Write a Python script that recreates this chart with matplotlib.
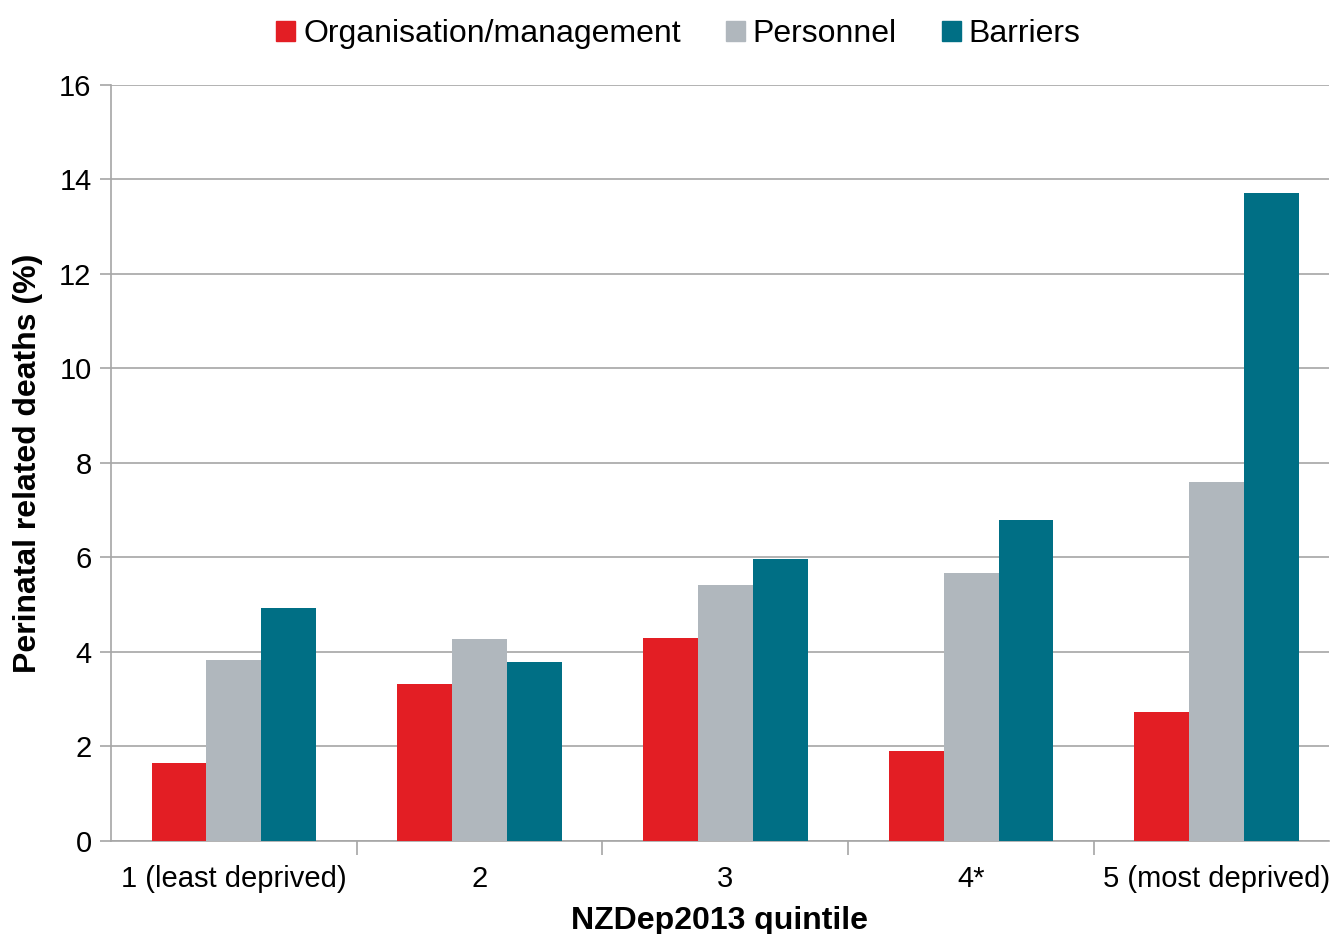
import numpy as np
import matplotlib.pyplot as plt
from matplotlib.patches import Patch

plt.rcParams['font.family'] = ['Liberation Sans', 'DejaVu Sans']

quintiles = ['1 (least deprived)', '2', '3', '4*', '5 (most deprived)']
series = ['Organisation/management', 'Personnel', 'Barriers']
organisation = [1.65, 3.32, 4.30, 1.90, 2.73]
personnel = [3.83, 4.28, 5.42, 5.67, 7.60]
barriers = [4.93, 3.79, 5.97, 6.79, 13.71]
colors = ['#e31e24', '#b0b7bd', '#006f85']


def main():
    fig = plt.figure(figsize=(13.3, 9.34), dpi=100)
    ax = fig.add_axes([0.0835, 0.0996, 0.9155, 0.8094])

    x = np.arange(len(quintiles))
    w = 0.2236
    for i, vals in enumerate([organisation, personnel, barriers]):
        ax.bar(x + (i - 1) * w, vals, w, color=colors[i], zorder=3)

    ax.set_ylim(0, 16)
    ax.set_yticks(range(0, 17, 2))
    ax.set_xlim(-0.5, -0.5 + 1219 / 246)
    ax.set_xticks(x)
    ax.set_xticklabels(quintiles)
    ax.set_xticks(np.arange(0.5, 4.5, 1), minor=True)

    ax.grid(axis='y', color='#a6a6a6', linewidth=1.2, zorder=0)
    for s in ['top', 'right']:
        ax.spines[s].set_visible(False)
    for s in ['left', 'bottom']:
        ax.spines[s].set_color('#a6a6a6')
        ax.spines[s].set_linewidth(1.2)

    ax.tick_params(axis='y', length=8, color='#a6a6a6', width=1.2, labelsize=21, pad=6)
    ax.tick_params(axis='x', which='major', length=0, labelsize=21, pad=17)
    ax.tick_params(axis='x', which='minor', length=10, color='#a6a6a6', width=1.2)

    ax.set_xlabel('NZDep2013 quintile', fontsize=23, fontweight='bold', labelpad=10)
    ax.set_ylabel('Perinatal related deaths (%)', fontsize=23, fontweight='bold', labelpad=12)

    handles = [Patch(color=c) for c in colors]
    fig.legend(handles, series, loc='upper center', bbox_to_anchor=(0.51, 1.01), ncol=3,
               frameon=False, fontsize=23, handlelength=0.6, handleheight=0.6,
               handletextpad=0.25, columnspacing=1.4)

    fig.savefig('out.png', dpi=100)


if __name__ == "__main__":
    main()
